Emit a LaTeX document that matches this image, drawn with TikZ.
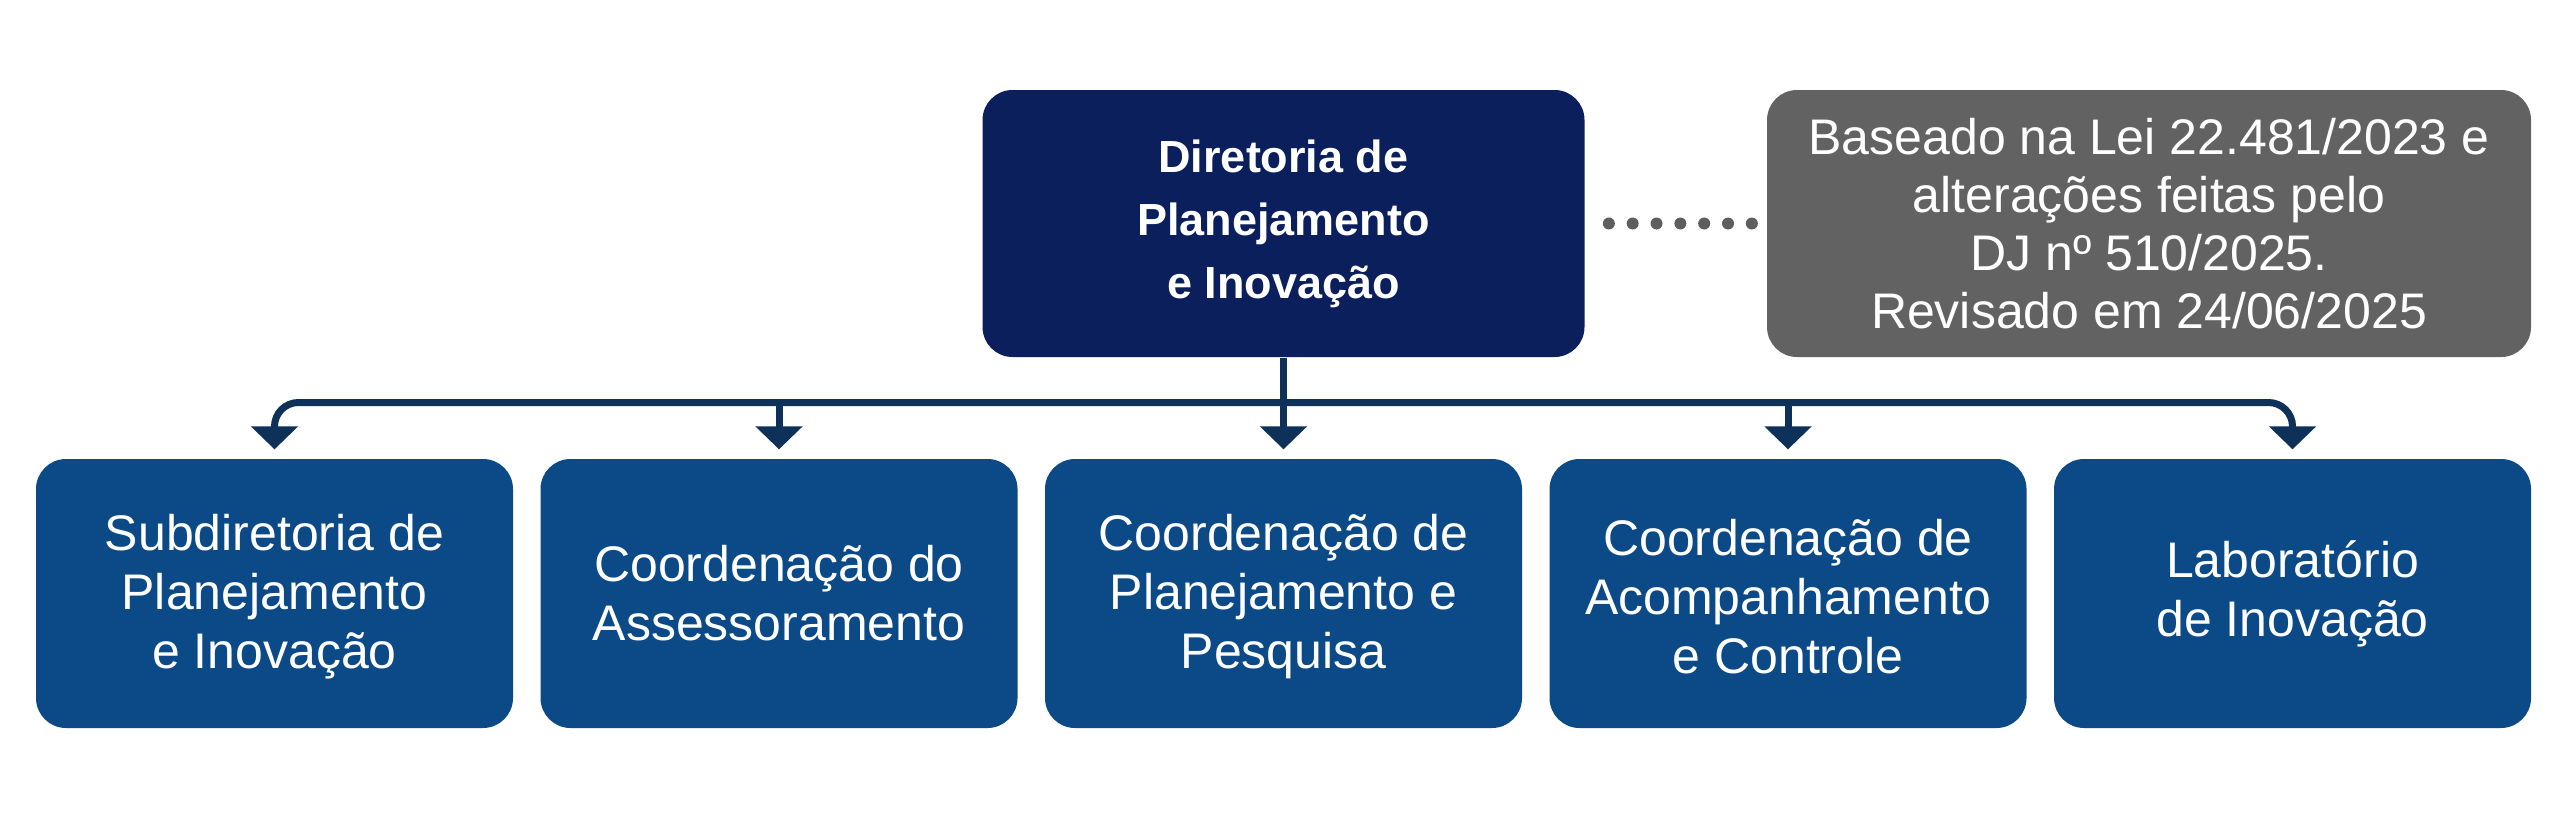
\documentclass[tikz,border=0pt]{standalone}
\usepackage{fontspec}
\setmainfont{Liberation Sans}
\usetikzlibrary{arrows.meta}
\definecolor{navy}{RGB}{11,31,92}
\definecolor{boxblue}{RGB}{11,74,134}
\definecolor{linkblue}{RGB}{14,49,89}
\definecolor{notegray}{RGB}{98,98,98}
\definecolor{dotgray}{RGB}{94,94,94}
\begin{document}
\begin{tikzpicture}[x=0.3pt,y=-0.3pt,
  basebox/.style={rectangle, rounded corners=9pt, text=white, align=center, inner sep=0pt},
  unitbox/.style={basebox, fill=boxblue, minimum width=143.1pt, minimum height=80.7pt, font=\fontsize{15pt}{17.7pt}\selectfont},
  headbox/.style={basebox, fill=navy, minimum width=180.6pt, minimum height=80.1pt, font=\bfseries\fontsize{13.5pt}{18.9pt}\selectfont},
  notebox/.style={basebox, fill=notegray, minimum width=229.2pt, minimum height=80.1pt, font=\fontsize{15pt}{17.4pt}\selectfont},
  link/.style={draw=linkblue, line width=2.1pt, -{Triangle[width=13.8pt,length=6.9pt]}, shorten >=2.7pt},
  dotlink/.style={draw=dotgray, line width=3.6pt, line cap=round, dash pattern=on 0pt off 7.15pt, shorten <=7.1pt, shorten >=3pt}
]
\fill[white] (0,0) rectangle (2565,815);
\useasboundingbox (0,0) rectangle (2565,815);

\node[headbox] (head) at (1283.5,223.5) {Diretoria de\\Planejamento\\e Inovação};
\node[notebox] (note) at (2149,223.5) {Baseado na Lei 22.481/2023 e\\alterações feitas pelo\\DJ nº 510/2025.\\Revisado em 24/06/2025};

\node[unitbox] (b1) at (274.5,593.5) {\rule{0pt}{13pt}Subdiretoria de\\Planejamento\\e Inovação};
\node[unitbox] (b2) at (779,593.5) {Coordenação do\\Assessoramento};
\node[unitbox] (b3) at (1283.5,593.5) {\rule{0pt}{13pt}Coordenação de\\Planejamento e\\Pesquisa};
\node[unitbox] (b4) at (1788,593.5) {\rule{0pt}{13pt}Coordenação de\\Acompanhamento\\e Controle};
\node[unitbox] (b5) at (2292.5,593.5) {Laboratório\\de Inovação};

\coordinate (bus) at (1283.5,402.5);

\draw[dotlink] (head.east) -- (note.west);

\draw[link] (head.south) -- (b3.north);
\draw[link, rounded corners=7.2pt] (bus) -| (b1.north);
\draw[link, rounded corners=7.2pt] (bus) -| (b5.north);
\draw[link] (b2.north |- bus) -- (b2.north);
\draw[link] (b4.north |- bus) -- (b4.north);
\end{tikzpicture}
\end{document}
